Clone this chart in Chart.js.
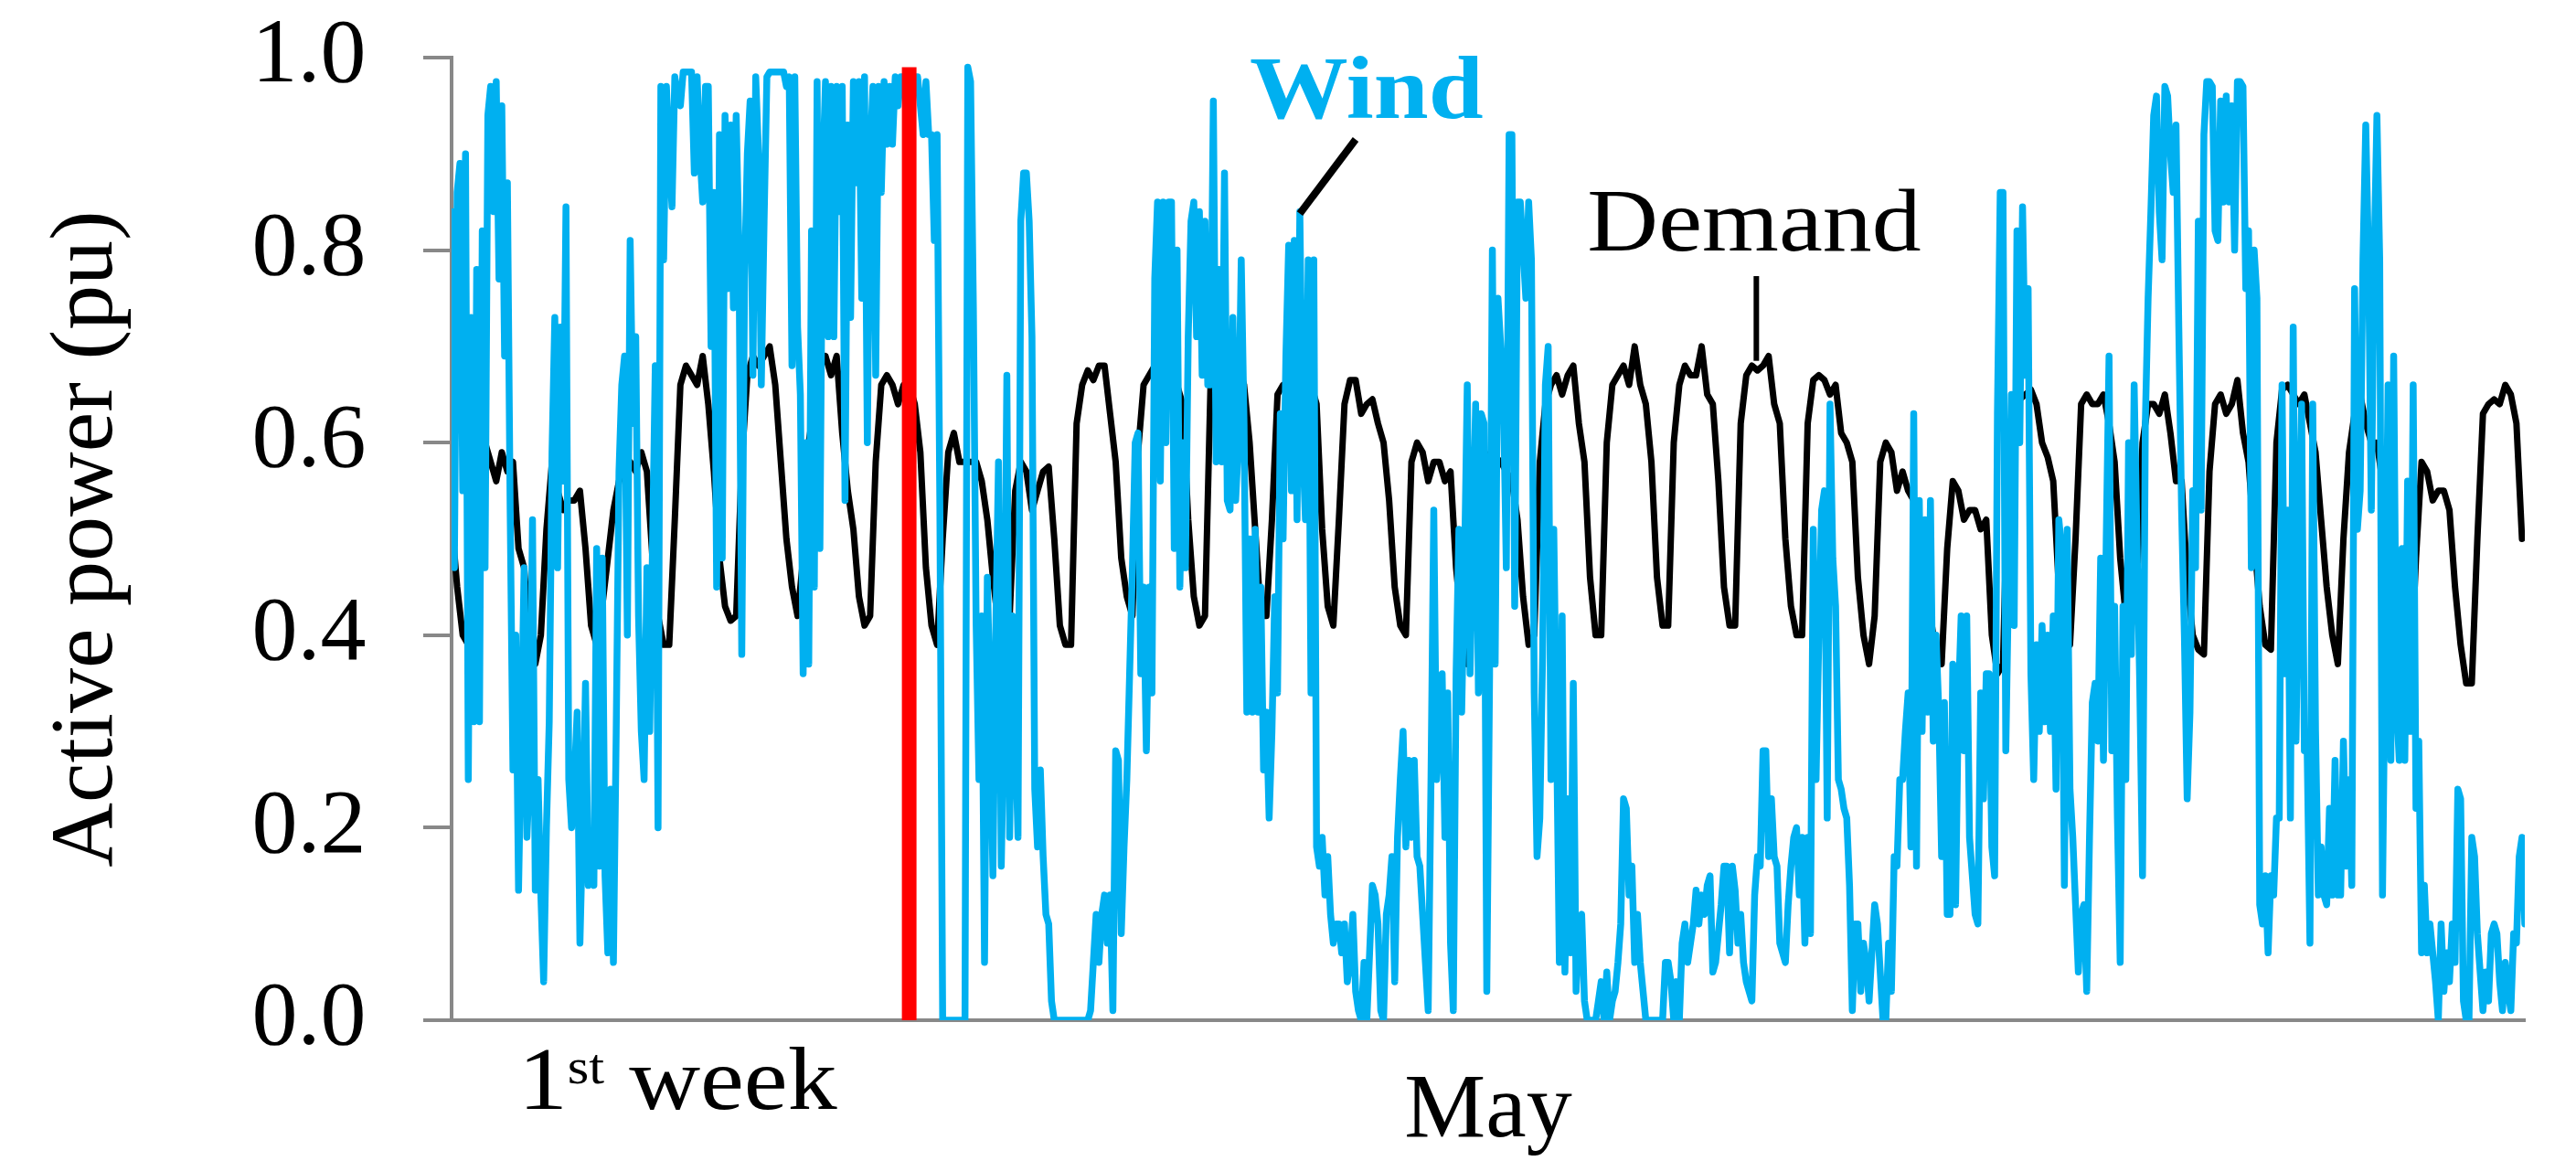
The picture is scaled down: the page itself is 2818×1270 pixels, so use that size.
<!DOCTYPE html>
<html>
<head>
<meta charset="utf-8">
<script src="https://cdn.jsdelivr.net/npm/chart.js@4.4.1/dist/chart.umd.min.js"></script>
<style>
  html, body { margin: 0; padding: 0; background: #ffffff; }
  #wrap { width: 2818px; height: 1270px; }
</style>
</head>
<body>
<div id="wrap"><canvas id="c" width="2818" height="1270"></canvas></div>
<script>
// ---------------- data: hours of May ----------------
const windStep = 1;     // wind: hourly samples
const demandStep = 2;   // demand: every 2 hours
const monthHours = 743;
const yTickValues = [0.0, 0.2, 0.4, 0.6, 0.8, 1.0];

// wind, one row per day (24 hourly values)
const windValues = [
  0.84, 0.47, 0.86, 0.89, 0.55, 0.90, 0.25, 0.73, 0.31, 0.78, 0.31, 0.82, 0.47, 0.94, 0.97, 0.84, 0.975, 0.77, 0.95, 0.69, 0.87, 0.53, 0.26, 0.40,
  0.135, 0.30, 0.47, 0.19, 0.26, 0.52, 0.135, 0.25, 0.13, 0.04, 0.20, 0.31, 0.59, 0.73, 0.47, 0.72, 0.56, 0.845, 0.25, 0.20, 0.25, 0.32, 0.08, 0.20,
  0.35, 0.14, 0.17, 0.14, 0.49, 0.16, 0.48, 0.15, 0.07, 0.24, 0.06, 0.30, 0.57, 0.66, 0.69, 0.40, 0.81, 0.62, 0.71, 0.42, 0.30, 0.25, 0.47, 0.30,
  0.49, 0.68, 0.20, 0.97, 0.79, 0.97, 0.90, 0.845, 0.98, 0.96, 0.95, 0.985, 0.985, 0.985, 0.985, 0.88, 0.98, 0.90, 0.85, 0.97, 0.97, 0.70, 0.86, 0.45,
  0.92, 0.48, 0.94, 0.76, 0.93, 0.74, 0.94, 0.80, 0.38, 0.77, 0.90, 0.955, 0.67, 0.98, 0.90, 0.66, 0.83, 0.98, 0.985, 0.985, 0.985, 0.985, 0.985, 0.985,
  0.97, 0.98, 0.68, 0.98, 0.72, 0.65, 0.36, 0.60, 0.37, 0.82, 0.45, 0.975, 0.49, 0.88, 0.975, 0.71, 0.97, 0.71, 0.97, 0.84, 0.97, 0.54, 0.93, 0.73,
  0.975, 0.87, 0.975, 0.75, 0.98, 0.60, 0.90, 0.97, 0.67, 0.97, 0.86, 0.975, 0.91, 0.97, 0.91, 0.98, 0.95, 0.98, 0.98, 0.95, 0.98, 0.98, 0.98, 0.98,
  0.95, 0.92, 0.975, 0.92, 0.92, 0.81, 0.92, 0.53, 0.00, 0.00, 0.00, 0.00, 0.00, 0.00, 0.00, 0.00, 0.00, 0.99, 0.975, 0.74, 0.41, 0.25, 0.42, 0.06,
  0.46, 0.33, 0.15, 0.40, 0.58, 0.16, 0.32, 0.67, 0.19, 0.42, 0.30, 0.19, 0.83, 0.88, 0.88, 0.83, 0.71, 0.24, 0.18, 0.26, 0.17, 0.11, 0.10, 0.02,
  0.00, 0.00, 0.00, 0.00, 0.00, 0.00, 0.00, 0.00, 0.00, 0.00, 0.00, 0.00, 0.00, 0.01, 0.06, 0.11, 0.06, 0.11, 0.13, 0.08, 0.13, 0.01, 0.28, 0.27,
  0.09, 0.18, 0.25, 0.36, 0.47, 0.60, 0.61, 0.36, 0.45, 0.28, 0.45, 0.34, 0.77, 0.85, 0.56, 0.85, 0.60, 0.85, 0.85, 0.49, 0.80, 0.45, 0.60, 0.47,
  0.71, 0.83, 0.85, 0.71, 0.84, 0.67, 0.83, 0.66, 0.66, 0.955, 0.58, 0.78, 0.58, 0.88, 0.54, 0.53, 0.73, 0.54, 0.60, 0.79, 0.62, 0.32, 0.50, 0.32,
  0.51, 0.32, 0.45, 0.26, 0.32, 0.21, 0.30, 0.44, 0.34, 0.63, 0.50, 0.69, 0.805, 0.55, 0.81, 0.52, 0.84, 0.60, 0.52, 0.79, 0.34, 0.79, 0.18, 0.16,
  0.19, 0.13, 0.17, 0.11, 0.08, 0.10, 0.10, 0.07, 0.10, 0.04, 0.06, 0.11, 0.03, 0.01, 0.00, 0.06, 0.00, 0.07, 0.14, 0.13, 0.10, 0.01, 0.00, 0.11,
  0.13, 0.17, 0.04, 0.19, 0.25, 0.30, 0.18, 0.27, 0.19, 0.27, 0.17, 0.16, 0.11, 0.06, 0.01, 0.25, 0.53, 0.25, 0.30, 0.36, 0.19, 0.34, 0.08, 0.01,
  0.36, 0.51, 0.32, 0.47, 0.66, 0.36, 0.50, 0.64, 0.34, 0.63, 0.62, 0.03, 0.36, 0.80, 0.37, 0.75, 0.70, 0.64, 0.47, 0.92, 0.92, 0.43, 0.85, 0.85,
  0.80, 0.75, 0.85, 0.79, 0.34, 0.17, 0.21, 0.38, 0.66, 0.70, 0.25, 0.51, 0.30, 0.06, 0.42, 0.05, 0.23, 0.07, 0.35, 0.03, 0.10, 0.11, 0.02, 0.00,
  0.00, 0.00, 0.00, 0.02, 0.04, 0.00, 0.05, 0.00, 0.02, 0.03, 0.06, 0.10, 0.23, 0.22, 0.13, 0.16, 0.06, 0.11, 0.06, 0.03, 0.00, 0.00, 0.00, 0.00,
  0.00, 0.00, 0.00, 0.06, 0.06, 0.04, 0.00, 0.04, 0.00, 0.08, 0.10, 0.06, 0.08, 0.10, 0.135, 0.10, 0.13, 0.11, 0.14, 0.15, 0.05, 0.06, 0.09, 0.12,
  0.16, 0.16, 0.07, 0.16, 0.135, 0.08, 0.11, 0.06, 0.04, 0.03, 0.02, 0.13, 0.17, 0.16, 0.28, 0.28, 0.17, 0.23, 0.17, 0.16, 0.08, 0.07, 0.06, 0.12,
  0.16, 0.19, 0.20, 0.13, 0.19, 0.08, 0.19, 0.09, 0.51, 0.25, 0.40, 0.53, 0.55, 0.21, 0.64, 0.48, 0.43, 0.25, 0.24, 0.22, 0.21, 0.14, 0.01, 0.10,
  0.10, 0.03, 0.08, 0.06, 0.02, 0.07, 0.12, 0.10, 0.05, 0.00, 0.00, 0.08, 0.03, 0.17, 0.16, 0.25, 0.25, 0.30, 0.34, 0.18, 0.63, 0.16, 0.54, 0.30,
  0.52, 0.32, 0.54, 0.29, 0.40, 0.32, 0.17, 0.33, 0.11, 0.11, 0.37, 0.12, 0.33, 0.42, 0.28, 0.42, 0.19, 0.15, 0.11, 0.10, 0.34, 0.23, 0.36, 0.36,
  0.18, 0.15, 0.63, 0.86, 0.86, 0.28, 0.46, 0.65, 0.41, 0.82, 0.60, 0.845, 0.67, 0.76, 0.36, 0.25, 0.39, 0.30, 0.41, 0.31, 0.40, 0.30, 0.42, 0.24,
  0.52, 0.49, 0.14, 0.51, 0.24, 0.19, 0.12, 0.05, 0.11, 0.12, 0.03, 0.19, 0.33, 0.35, 0.29, 0.48, 0.27, 0.50, 0.69, 0.28, 0.43, 0.21, 0.06, 0.43,
  0.25, 0.60, 0.38, 0.66, 0.50, 0.35, 0.15, 0.62, 0.75, 0.84, 0.94, 0.96, 0.84, 0.79, 0.97, 0.96, 0.90, 0.86, 0.93, 0.72, 0.53, 0.40, 0.23, 0.32,
  0.55, 0.47, 0.83, 0.53, 0.92, 0.975, 0.975, 0.97, 0.82, 0.81, 0.955, 0.85, 0.96, 0.85, 0.95, 0.80, 0.975, 0.975, 0.97, 0.76, 0.82, 0.47, 0.80, 0.75,
  0.12, 0.10, 0.15, 0.07, 0.15, 0.13, 0.21, 0.21, 0.66, 0.36, 0.53, 0.21, 0.72, 0.29, 0.49, 0.64, 0.28, 0.28, 0.08, 0.64, 0.30, 0.13, 0.18, 0.13,
  0.12, 0.22, 0.13, 0.27, 0.13, 0.13, 0.29, 0.16, 0.25, 0.14, 0.76, 0.51, 0.55, 0.79, 0.93, 0.79, 0.53, 0.79, 0.94, 0.79, 0.13, 0.40, 0.66, 0.27,
  0.69, 0.33, 0.27, 0.49, 0.27, 0.56, 0.30, 0.66, 0.22, 0.29, 0.07, 0.14, 0.07, 0.10, 0.07, 0.04, 0.00, 0.10, 0.03, 0.07, 0.04, 0.10, 0.06, 0.24,
  0.23, 0.02, 0.00, 0.00, 0.19, 0.17, 0.09, 0.05, 0.01, 0.05, 0.02, 0.09, 0.10, 0.09, 0.04, 0.01, 0.06, 0.03, 0.01, 0.09, 0.08, 0.17, 0.19, 0.10
];

// demand, one row per day (12 values, every 2 hours)
const demandValues = [
  0.52, 0.45, 0.40, 0.39, 0.50, 0.57, 0.60, 0.58, 0.56, 0.59, 0.57, 0.58,
  0.49, 0.47, 0.39, 0.37, 0.40, 0.51, 0.58, 0.55, 0.53, 0.54, 0.54, 0.55,
  0.49, 0.41, 0.39, 0.43, 0.48, 0.53, 0.56, 0.57, 0.58, 0.57, 0.59, 0.57,
  0.48, 0.42, 0.39, 0.39, 0.52, 0.66, 0.68, 0.67, 0.66, 0.69, 0.64, 0.57,
  0.48, 0.43, 0.415, 0.42, 0.58, 0.67, 0.69, 0.68, 0.69, 0.70, 0.66, 0.58,
  0.50, 0.45, 0.42, 0.48, 0.60, 0.64, 0.68, 0.69, 0.67, 0.69, 0.61, 0.55,
  0.51, 0.44, 0.41, 0.42, 0.58, 0.66, 0.67, 0.66, 0.64, 0.66, 0.66, 0.64,
  0.59, 0.47, 0.41, 0.39, 0.50, 0.59, 0.61, 0.58, 0.58, 0.58, 0.58, 0.56,
  0.52, 0.46, 0.41, 0.38, 0.42, 0.55, 0.58, 0.57, 0.53, 0.55, 0.57, 0.575,
  0.50, 0.41, 0.39, 0.39, 0.62, 0.66, 0.675, 0.665, 0.68, 0.68, 0.63, 0.58,
  0.48, 0.44, 0.42, 0.59, 0.66, 0.67, 0.68, 0.67, 0.66, 0.66, 0.66, 0.64,
  0.52, 0.44, 0.41, 0.42, 0.66, 0.67, 0.67, 0.68, 0.69, 0.68, 0.66, 0.60,
  0.51, 0.42, 0.42, 0.52, 0.65, 0.66, 0.66, 0.67, 0.66, 0.66, 0.66, 0.64,
  0.51, 0.43, 0.41, 0.52, 0.64, 0.665, 0.665, 0.63, 0.64, 0.645, 0.62, 0.60,
  0.54, 0.45, 0.41, 0.40, 0.58, 0.60, 0.59, 0.56, 0.58, 0.58, 0.56, 0.57,
  0.47, 0.41, 0.37, 0.45, 0.57, 0.59, 0.585, 0.585, 0.58, 0.57, 0.56, 0.52,
  0.44, 0.39, 0.40, 0.58, 0.64, 0.66, 0.67, 0.65, 0.67, 0.68, 0.62, 0.58,
  0.46, 0.40, 0.40, 0.60, 0.66, 0.67, 0.68, 0.66, 0.70, 0.66, 0.64, 0.58,
  0.46, 0.41, 0.41, 0.60, 0.66, 0.68, 0.67, 0.67, 0.70, 0.65, 0.64, 0.56,
  0.45, 0.41, 0.41, 0.62, 0.67, 0.68, 0.675, 0.68, 0.69, 0.64, 0.62, 0.50,
  0.43, 0.40, 0.40, 0.62, 0.665, 0.67, 0.665, 0.65, 0.66, 0.61, 0.60, 0.58,
  0.46, 0.40, 0.37, 0.42, 0.58, 0.60, 0.59, 0.55, 0.57, 0.55, 0.54, 0.50,
  0.45, 0.42, 0.38, 0.37, 0.49, 0.56, 0.55, 0.52, 0.53, 0.53, 0.51, 0.52,
  0.40, 0.36, 0.37, 0.60, 0.64, 0.645, 0.65, 0.655, 0.64, 0.60, 0.585, 0.56,
  0.45, 0.43, 0.39, 0.50, 0.64, 0.65, 0.64, 0.64, 0.65, 0.62, 0.58, 0.48,
  0.42, 0.41, 0.45, 0.60, 0.64, 0.64, 0.63, 0.65, 0.61, 0.56, 0.56, 0.46,
  0.40, 0.385, 0.38, 0.57, 0.64, 0.65, 0.63, 0.64, 0.665, 0.61, 0.58, 0.50,
  0.43, 0.39, 0.385, 0.60, 0.655, 0.66, 0.65, 0.64, 0.65, 0.62, 0.59, 0.52,
  0.45, 0.40, 0.37, 0.50, 0.59, 0.63, 0.65, 0.62, 0.60, 0.60, 0.56, 0.50,
  0.44, 0.39, 0.36, 0.35, 0.48, 0.58, 0.57, 0.54, 0.55, 0.55, 0.53, 0.45,
  0.39, 0.35, 0.35, 0.50, 0.63, 0.64, 0.645, 0.64, 0.66, 0.65, 0.62, 0.50
];

// end of first week marker (hour, top value)
const weekMarkHour = 164;
const weekMarkTop = 0.99;

// text labels
const xAxisTitle = 'May';
const yAxisTitle = 'Active power (pu)';
const windLabelText = 'Wind';
const demandLabelText = 'Demand';
const weekLabelParts = ['1', 'st', ' week'];

// annotation anchors in data units (hour, value)
const windLabelAnchor = { hour: 286, value: 0.937 };
const windLeader = { from: { hour: 324, value: 0.915 }, to: { hour: 304, value: 0.838 } };
const demandLabelAnchor = { hour: 407, value: 0.80 };
const demandLeader = { from: { hour: 467.6, value: 0.773 }, to: { hour: 467.6, value: 0.685 } };
const weekLabelHour = 81;

// ---------------- styling ----------------
const WIND_COLOR = '#00B0F0';
const DEMAND_COLOR = '#000000';
const MARK_COLOR = '#FF0000';
const AXIS_COLOR = '#888888';
const SERIF = '"Liberation Serif", "Times New Roman", serif';
const STRETCH = 1.1;

const windPoints = windValues.map((v, i) => ({ x: i * windStep, y: v }));
const demandPoints = demandValues.map((v, i) => ({ x: i * demandStep, y: v }));
const markPoints = [{ x: weekMarkHour, y: 0 }, { x: weekMarkHour, y: weekMarkTop }];

function drawStretched(ctx, text, px, py, align) {
  ctx.save();
  ctx.translate(px, py);
  ctx.scale(STRETCH, 1);
  ctx.textAlign = align;
  ctx.fillText(text, 0, 0);
  ctx.restore();
}

const annotationPlugin = {
  id: 'annotations',
  afterDatasetsDraw(chart) {
    const { ctx, scales: { x, y }, chartArea } = chart;
    ctx.save();
    ctx.textBaseline = 'alphabetic';

    // Wind label + leader
    ctx.fillStyle = WIND_COLOR;
    ctx.font = 'bold 98px ' + SERIF;
    drawStretched(ctx, windLabelText, x.getPixelForValue(windLabelAnchor.hour), y.getPixelForValue(windLabelAnchor.value), 'left');
    ctx.strokeStyle = '#000000';
    ctx.lineWidth = 8;
    ctx.lineCap = 'butt';
    ctx.beginPath();
    ctx.moveTo(x.getPixelForValue(windLeader.from.hour), y.getPixelForValue(windLeader.from.value));
    ctx.lineTo(x.getPixelForValue(windLeader.to.hour), y.getPixelForValue(windLeader.to.value));
    ctx.stroke();

    // Demand label + leader
    ctx.fillStyle = '#000000';
    ctx.font = '98px ' + SERIF;
    drawStretched(ctx, demandLabelText, x.getPixelForValue(demandLabelAnchor.hour), y.getPixelForValue(demandLabelAnchor.value), 'left');
    ctx.lineWidth = 6;
    ctx.beginPath();
    ctx.moveTo(x.getPixelForValue(demandLeader.from.hour), y.getPixelForValue(demandLeader.from.value));
    ctx.lineTo(x.getPixelForValue(demandLeader.to.hour), y.getPixelForValue(demandLeader.to.value));
    ctx.stroke();

    // "1st week" label under first week
    const bigFont = '98px ' + SERIF;
    const supFont = '55px ' + SERIF;
    ctx.font = bigFont;
    const w1 = ctx.measureText(weekLabelParts[0]).width * STRETCH;
    const w3 = ctx.measureText(weekLabelParts[2]).width * STRETCH;
    ctx.font = supFont;
    const w2 = ctx.measureText(weekLabelParts[1]).width * STRETCH;
    const total = w1 + w2 + w3;
    let cx = x.getPixelForValue(weekLabelHour) - total / 2;
    const base = chartArea.bottom + 97;
    ctx.font = bigFont;
    drawStretched(ctx, weekLabelParts[0], cx, base, 'left');
    cx += w1;
    ctx.font = supFont;
    drawStretched(ctx, weekLabelParts[1], cx, base - 28, 'left');
    cx += w2;
    ctx.font = bigFont;
    drawStretched(ctx, weekLabelParts[2], cx, base, 'left');
    ctx.restore();
  }
};

const chart = new Chart(document.getElementById('c'), {
  type: 'line',
  data: {
    datasets: [
      {
        label: 'End of 1st week',
        data: markPoints,
        borderColor: MARK_COLOR,
        borderWidth: 16,
        borderCapStyle: 'butt',
        pointRadius: 0,
        fill: false
      },
      {
        label: windLabelText,
        data: windPoints,
        borderColor: WIND_COLOR,
        borderWidth: 7.5,
        borderJoinStyle: 'round',
        borderCapStyle: 'round',
        pointRadius: 0,
        tension: 0,
        fill: false
      },
      {
        label: demandLabelText,
        data: demandPoints,
        borderColor: DEMAND_COLOR,
        borderWidth: 7,
        borderJoinStyle: 'round',
        borderCapStyle: 'round',
        pointRadius: 0,
        tension: 0,
        fill: false
      }
    ]
  },
  options: {
    responsive: false,
    animation: false,
    devicePixelRatio: 1,
    layout: { padding: { left: 0, right: 56, top: 0, bottom: 0 } },
    plugins: {
      legend: { display: false },
      tooltip: { enabled: false },
      title: { display: false }
    },
    scales: {
      x: {
        type: 'linear',
        min: 0,
        max: monthHours,
        ticks: { display: false },
        grid: { display: false },
        border: { display: true, color: AXIS_COLOR, width: 4 },
        title: {
          display: true,
          text: xAxisTitle,
          color: '#000000',
          font: { family: SERIF, size: 100, lineHeight: 1.0 },
          padding: { top: 0, bottom: 3 }
        },
        afterFit(scale) { scale.height = 154; }
      },
      y: {
        type: 'linear',
        min: 0,
        max: 1,
        afterBuildTicks(scale) { scale.ticks = yTickValues.map(v => ({ value: v })); },
        ticks: {
          color: '#000000',
          font: { family: SERIF, size: 100, lineHeight: 0.01 },
          padding: 62.5,
          callback: (v) => Number(v).toFixed(1)
        },
        grid: {
          drawOnChartArea: false,
          drawTicks: true,
          tickLength: 31,
          color: AXIS_COLOR,
          lineWidth: 4
        },
        border: { display: true, color: AXIS_COLOR, width: 4 },
        title: {
          display: true,
          text: yAxisTitle,
          color: '#000000',
          font: { family: SERIF, size: 98, lineHeight: 1.0 },
          padding: { top: 47, bottom: 0 }
        },
        afterFit(scale) { scale.width = 494; }
      }
    }
  },
  plugins: [annotationPlugin]
});
</script>
</body>
</html>
